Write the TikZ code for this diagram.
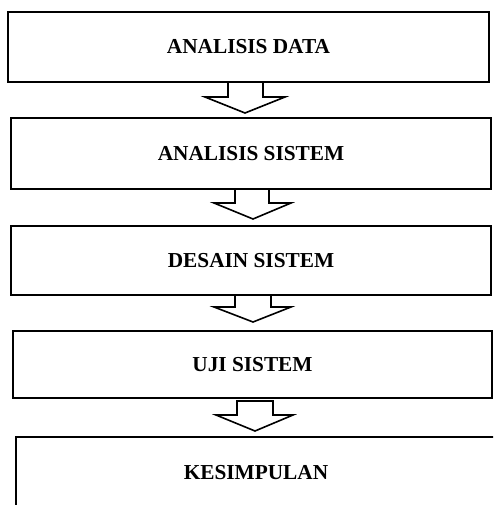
\documentclass[tikz,border=0pt]{standalone}
\usepackage{fontspec}
\setmainfont{Liberation Serif}
\begin{document}
\begin{tikzpicture}[x=1pt,y=1pt,
  box/.style={draw=black, line width=1.6pt, rectangle, inner sep=0pt,
    font=\fontsize{21.3}{24}\selectfont\bfseries, text=black},
  blockarrow/.style={draw=black, line width=1.6pt, line join=miter}]
\useasboundingbox (0,0) rectangle (493,-505);
\clip (0,0) rectangle (493,-505);
\node[box, minimum width=481pt, minimum height=70pt] (b1) at (248.5,-47) {ANALISIS DATA};
\node[box, minimum width=480pt, minimum height=71pt] (b2) at (251,-153.5) {ANALISIS SISTEM};
\node[box, minimum width=480pt, minimum height=69pt] (b3) at (251,-260.5) {DESAIN SISTEM};
\node[box, minimum width=479pt, minimum height=67pt] (b4) at (252.5,-364.5) {UJI SISTEM};
\node[box, minimum width=480pt, minimum height=72pt] (b5) at (256,-473) {KESIMPULAN};
% block arrows
\draw[blockarrow] (228,-82) -- (228,-97) -- (205,-97) -- (245,-113) -- (285,-97) -- (263,-97) -- (263,-82);
\draw[blockarrow] (235,-189) -- (235,-203) -- (214,-203) -- (253,-219) -- (291,-203) -- (269,-203) -- (269,-189);
\draw[blockarrow] (235,-295) -- (235,-307) -- (214,-307) -- (253,-322) -- (291,-307) -- (271,-307) -- (271,-295);
\draw[blockarrow] (237,-401) -- (237,-415) -- (216,-415) -- (255,-431) -- (293,-415) -- (273,-415) -- (273,-401) -- cycle;
\end{tikzpicture}
\end{document}
